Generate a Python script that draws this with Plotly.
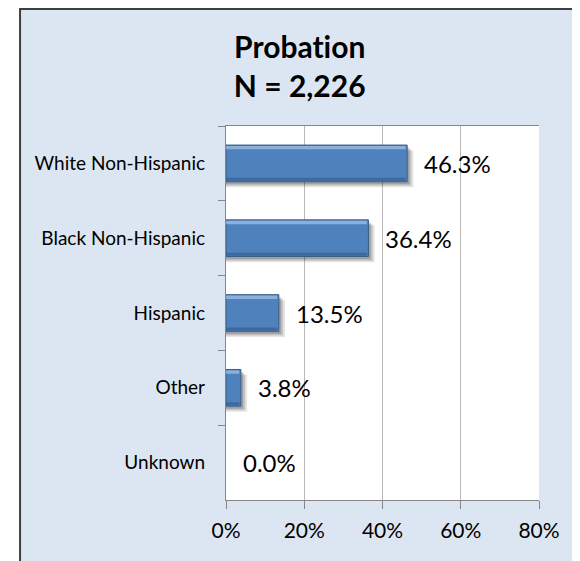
import plotly.graph_objects as go

# Datos
categorias = ["White Non-Hispanic", "Black Non-Hispanic", "Hispanic", "Other", "Unknown"]
porcentajes = [46.3, 36.4, 13.5, 3.8, 0.0]
titulo = "Probat\u200cion<br>N = 2,226"  # ZWNJ evita la ligadura "ti" de Lato
x_ticks = [0, 20, 40, 60, 80]
x_ticktext = ["0%", "20%", "40%", "60%", "80%"]

FONT = "Lato, Carlito, Calibri, sans-serif"
AZUL = "#4F81BD"
W = 0.49

fig = go.Figure()

# Sombra difusa (capas translúcidas desplazadas)
for dx, dy, a in ((1.6, 0.075, 0.10), (1.1, 0.055, 0.14), (0.6, 0.035, 0.18)):
    fig.add_trace(
        go.Bar(
            y=categorias,
            x=[v + dx if v > 0 else 0 for v in porcentajes],
            orientation="h",
            width=W,
            offset=-W / 2 + dy,
            marker=dict(color=f"rgba(0,0,0,{a})", line=dict(width=0)),
            hoverinfo="skip",
            showlegend=False,
        )
    )

# Barra principal
fig.add_trace(
    go.Bar(
        y=categorias,
        x=porcentajes,
        orientation="h",
        width=W,
        offset=-W / 2,
        marker=dict(color=AZUL, line=dict(color="#385D8A", width=[1 if v > 0 else 0 for v in porcentajes])),
        showlegend=False,
        hovertemplate="%{y}: %{x:.1f}%<extra></extra>",
    )
)

# Bisel: franja clara arriba y oscura abajo
fig.add_trace(
    go.Bar(
        y=categorias,
        x=[max(v - 0.4, 0) for v in porcentajes],
        orientation="h",
        width=0.045,
        offset=-W / 2 + 0.012,
        marker=dict(color="rgba(190,215,245,0.55)", line=dict(width=0)),
        hoverinfo="skip",
        showlegend=False,
    )
)
fig.add_trace(
    go.Bar(
        y=categorias,
        x=[max(v - 0.4, 0) for v in porcentajes],
        orientation="h",
        width=0.04,
        offset=W / 2 - 0.052,
        marker=dict(color="rgba(40,75,120,0.45)", line=dict(width=0)),
        hoverinfo="skip",
        showlegend=False,
    )
)

# Etiquetas de datos
for c, v in zip(categorias, porcentajes):
    fig.add_annotation(
        x=v, y=c, text=f"{v:.1f}%", showarrow=False,
        xanchor="left", yanchor="middle", xshift=15,
        font=dict(family=FONT, size=24, color="black"),
    )

# Marco exterior y fondo blanco del área de trazado
fig.add_shape(type="rect", xref="paper", yref="paper", x0=-0.658, x1=1.118, y0=-0.25, y1=1.313,
              fillcolor="#DCE6F2", line=dict(color="#3F3F3F", width=2), layer="below")
fig.add_shape(type="rect", xref="paper", yref="paper", x0=0, x1=1, y0=0, y1=1,
              fillcolor="white", line=dict(width=0), layer="below")

fig.update_layout(
    width=572,
    height=553,
    barmode="overlay",
    paper_bgcolor="white",
    plot_bgcolor="white",
    margin=dict(l=218, r=41, t=118, b=61),
    title=dict(
        text=titulo,
        x=0.51, xanchor="center",
        y=1 - 50 / 553, yanchor="top",
        font=dict(family=FONT, size=30, color="black", weight="bold"),
    ),
    font=dict(family=FONT, color="black"),
    xaxis=dict(
        range=[0, 80],
        tickvals=x_ticks,
        ticktext=x_ticktext,
        showgrid=True,
        gridcolor="#B8B8B8",
        gridwidth=1.3,
        zeroline=False,
        showline=True,
        linecolor="#868686",
        linewidth=1.3,
        mirror=True,
        ticks="outside",
        ticklen=8,
        tickcolor="#868686",
        ticklabelstandoff=4,
        tickfont=dict(family=FONT, size=21, color="black"),
    ),
    yaxis=dict(
        categoryorder="array",
        categoryarray=categorias,
        autorange="reversed",
        showline=True,
        linecolor="#868686",
        linewidth=1.3,
        showgrid=False,
        ticks="outside",
        tickson="boundaries",
        ticklen=7,
        tickcolor="#868686",
        ticklabelstandoff=16,
        tickfont=dict(family=FONT, size=19, color="black"),
    ),
)

fig.write_html("out.html")
